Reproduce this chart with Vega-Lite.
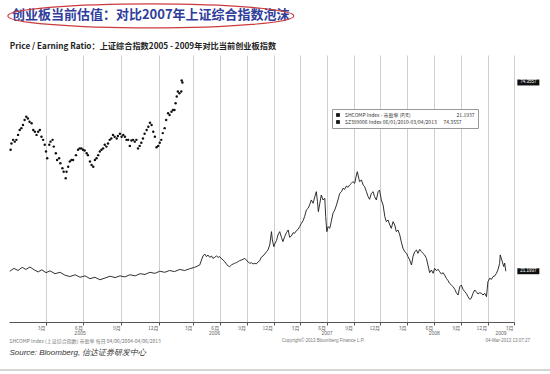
{
  "$schema": "https://vega.github.io/schema/vega-lite/v6.json",
  "width": 506,
  "height": 267,
  "autosize": {"type": "none"},
  "padding": {"left": 9, "top": 55, "right": 35, "bottom": 52},
  "background": "white",
  "config": {
    "font": "Liberation Sans",
    "view": {"stroke": null}
  },
  "datasets": {
    "pe": [
      {"date": "2005-01-03", "pe": 21.2, "series": "SHCOMP"},
      {"date": "2005-01-13", "pe": 22.0, "series": "SHCOMP"},
      {"date": "2005-01-23", "pe": 21.4, "series": "SHCOMP"},
      {"date": "2005-02-02", "pe": 22.3, "series": "SHCOMP"},
      {"date": "2005-02-11", "pe": 21.7, "series": "SHCOMP"},
      {"date": "2005-02-21", "pe": 22.4, "series": "SHCOMP"},
      {"date": "2005-03-03", "pe": 21.6, "series": "SHCOMP"},
      {"date": "2005-03-13", "pe": 21.0, "series": "SHCOMP"},
      {"date": "2005-03-22", "pe": 21.6, "series": "SHCOMP"},
      {"date": "2005-04-01", "pe": 20.8, "series": "SHCOMP"},
      {"date": "2005-04-11", "pe": 21.3, "series": "SHCOMP"},
      {"date": "2005-04-23", "pe": 20.5, "series": "SHCOMP"},
      {"date": "2005-05-05", "pe": 20.9, "series": "SHCOMP"},
      {"date": "2005-05-17", "pe": 20.1, "series": "SHCOMP"},
      {"date": "2005-05-29", "pe": 19.7, "series": "SHCOMP"},
      {"date": "2005-06-11", "pe": 20.2, "series": "SHCOMP"},
      {"date": "2005-06-23", "pe": 19.5, "series": "SHCOMP"},
      {"date": "2005-07-05", "pe": 19.9, "series": "SHCOMP"},
      {"date": "2005-07-17", "pe": 19.1, "series": "SHCOMP"},
      {"date": "2005-07-29", "pe": 19.5, "series": "SHCOMP"},
      {"date": "2005-08-10", "pe": 18.8, "series": "SHCOMP"},
      {"date": "2005-08-23", "pe": 19.3, "series": "SHCOMP"},
      {"date": "2005-09-04", "pe": 19.8, "series": "SHCOMP"},
      {"date": "2005-09-16", "pe": 19.4, "series": "SHCOMP"},
      {"date": "2005-09-28", "pe": 19.9, "series": "SHCOMP"},
      {"date": "2005-10-10", "pe": 19.6, "series": "SHCOMP"},
      {"date": "2005-10-22", "pe": 20.2, "series": "SHCOMP"},
      {"date": "2005-11-04", "pe": 19.9, "series": "SHCOMP"},
      {"date": "2005-11-16", "pe": 20.5, "series": "SHCOMP"},
      {"date": "2005-11-28", "pe": 20.3, "series": "SHCOMP"},
      {"date": "2005-12-10", "pe": 20.9, "series": "SHCOMP"},
      {"date": "2005-12-22", "pe": 20.6, "series": "SHCOMP"},
      {"date": "2006-01-03", "pe": 21.2, "series": "SHCOMP"},
      {"date": "2006-01-16", "pe": 20.9, "series": "SHCOMP"},
      {"date": "2006-01-29", "pe": 21.4, "series": "SHCOMP"},
      {"date": "2006-02-11", "pe": 21.1, "series": "SHCOMP"},
      {"date": "2006-02-25", "pe": 21.7, "series": "SHCOMP"},
      {"date": "2006-03-10", "pe": 21.4, "series": "SHCOMP"},
      {"date": "2006-03-23", "pe": 21.9, "series": "SHCOMP"},
      {"date": "2006-04-07", "pe": 22.3, "series": "SHCOMP"},
      {"date": "2006-04-24", "pe": 22.96, "series": "SHCOMP"},
      {"date": "2006-04-30", "pe": 24.36, "series": "SHCOMP"},
      {"date": "2006-05-05", "pe": 25.49, "series": "SHCOMP"},
      {"date": "2006-05-11", "pe": 26.05, "series": "SHCOMP"},
      {"date": "2006-05-17", "pe": 25.3, "series": "SHCOMP"},
      {"date": "2006-05-22", "pe": 25.77, "series": "SHCOMP"},
      {"date": "2006-05-28", "pe": 25.11, "series": "SHCOMP"},
      {"date": "2006-06-03", "pe": 25.49, "series": "SHCOMP"},
      {"date": "2006-06-08", "pe": 24.83, "series": "SHCOMP"},
      {"date": "2006-06-14", "pe": 25.11, "series": "SHCOMP"},
      {"date": "2006-06-20", "pe": 25.49, "series": "SHCOMP"},
      {"date": "2006-06-26", "pe": 25.11, "series": "SHCOMP"},
      {"date": "2006-07-01", "pe": 25.3, "series": "SHCOMP"},
      {"date": "2006-07-07", "pe": 24.74, "series": "SHCOMP"},
      {"date": "2006-07-13", "pe": 24.36, "series": "SHCOMP"},
      {"date": "2006-07-18", "pe": 23.89, "series": "SHCOMP"},
      {"date": "2006-07-24", "pe": 23.24, "series": "SHCOMP"},
      {"date": "2006-07-30", "pe": 22.67, "series": "SHCOMP"},
      {"date": "2006-08-04", "pe": 22.49, "series": "SHCOMP"},
      {"date": "2006-08-10", "pe": 22.96, "series": "SHCOMP"},
      {"date": "2006-08-16", "pe": 23.24, "series": "SHCOMP"},
      {"date": "2006-08-21", "pe": 23.43, "series": "SHCOMP"},
      {"date": "2006-08-27", "pe": 23.61, "series": "SHCOMP"},
      {"date": "2006-09-02", "pe": 23.89, "series": "SHCOMP"},
      {"date": "2006-09-07", "pe": 24.18, "series": "SHCOMP"},
      {"date": "2006-09-13", "pe": 24.36, "series": "SHCOMP"},
      {"date": "2006-09-19", "pe": 24.55, "series": "SHCOMP"},
      {"date": "2006-09-25", "pe": 24.83, "series": "SHCOMP"},
      {"date": "2006-09-30", "pe": 24.36, "series": "SHCOMP"},
      {"date": "2006-10-06", "pe": 23.8, "series": "SHCOMP"},
      {"date": "2006-10-12", "pe": 23.43, "series": "SHCOMP"},
      {"date": "2006-10-17", "pe": 23.61, "series": "SHCOMP"},
      {"date": "2006-10-23", "pe": 23.24, "series": "SHCOMP"},
      {"date": "2006-10-29", "pe": 23.43, "series": "SHCOMP"},
      {"date": "2006-11-03", "pe": 23.24, "series": "SHCOMP"},
      {"date": "2006-11-09", "pe": 23.8, "series": "SHCOMP"},
      {"date": "2006-11-15", "pe": 24.18, "series": "SHCOMP"},
      {"date": "2006-11-20", "pe": 25.11, "series": "SHCOMP"},
      {"date": "2006-11-26", "pe": 25.49, "series": "SHCOMP"},
      {"date": "2006-12-02", "pe": 26.05, "series": "SHCOMP"},
      {"date": "2006-12-08", "pe": 26.71, "series": "SHCOMP"},
      {"date": "2006-12-13", "pe": 27.18, "series": "SHCOMP"},
      {"date": "2006-12-19", "pe": 28.59, "series": "SHCOMP"},
      {"date": "2006-12-25", "pe": 32.35, "series": "SHCOMP"},
      {"date": "2006-12-28", "pe": 30.0, "series": "SHCOMP"},
      {"date": "2007-01-02", "pe": 28.12, "series": "SHCOMP"},
      {"date": "2007-01-06", "pe": 29.06, "series": "SHCOMP"},
      {"date": "2007-01-11", "pe": 29.81, "series": "SHCOMP"},
      {"date": "2007-01-16", "pe": 31.41, "series": "SHCOMP"},
      {"date": "2007-01-22", "pe": 32.35, "series": "SHCOMP"},
      {"date": "2007-01-28", "pe": 30.75, "series": "SHCOMP"},
      {"date": "2007-02-02", "pe": 29.53, "series": "SHCOMP"},
      {"date": "2007-02-08", "pe": 30.94, "series": "SHCOMP"},
      {"date": "2007-02-14", "pe": 32.06, "series": "SHCOMP"},
      {"date": "2007-02-20", "pe": 32.82, "series": "SHCOMP"},
      {"date": "2007-02-25", "pe": 30.75, "series": "SHCOMP"},
      {"date": "2007-03-03", "pe": 31.13, "series": "SHCOMP"},
      {"date": "2007-03-09", "pe": 32.06, "series": "SHCOMP"},
      {"date": "2007-03-14", "pe": 31.88, "series": "SHCOMP"},
      {"date": "2007-03-20", "pe": 32.63, "series": "SHCOMP"},
      {"date": "2007-03-26", "pe": 33.0, "series": "SHCOMP"},
      {"date": "2007-03-31", "pe": 33.75, "series": "SHCOMP"},
      {"date": "2007-04-06", "pe": 34.69, "series": "SHCOMP"},
      {"date": "2007-04-12", "pe": 35.44, "series": "SHCOMP"},
      {"date": "2007-04-17", "pe": 36.57, "series": "SHCOMP"},
      {"date": "2007-04-23", "pe": 38.45, "series": "SHCOMP"},
      {"date": "2007-04-29", "pe": 38.92, "series": "SHCOMP"},
      {"date": "2007-05-04", "pe": 39.86, "series": "SHCOMP"},
      {"date": "2007-05-10", "pe": 41.27, "series": "SHCOMP"},
      {"date": "2007-05-16", "pe": 40.33, "series": "SHCOMP"},
      {"date": "2007-05-22", "pe": 42.2, "series": "SHCOMP"},
      {"date": "2007-05-27", "pe": 43.61, "series": "SHCOMP"},
      {"date": "2007-05-31", "pe": 40.8, "series": "SHCOMP"},
      {"date": "2007-06-03", "pe": 37.98, "series": "SHCOMP"},
      {"date": "2007-06-08", "pe": 40.33, "series": "SHCOMP"},
      {"date": "2007-06-13", "pe": 42.67, "series": "SHCOMP"},
      {"date": "2007-06-19", "pe": 41.27, "series": "SHCOMP"},
      {"date": "2007-06-25", "pe": 41.74, "series": "SHCOMP"},
      {"date": "2007-06-28", "pe": 36.57, "series": "SHCOMP"},
      {"date": "2007-07-02", "pe": 32.35, "series": "SHCOMP"},
      {"date": "2007-07-06", "pe": 33.75, "series": "SHCOMP"},
      {"date": "2007-07-12", "pe": 33.28, "series": "SHCOMP"},
      {"date": "2007-07-17", "pe": 35.16, "series": "SHCOMP"},
      {"date": "2007-07-23", "pe": 37.51, "series": "SHCOMP"},
      {"date": "2007-07-29", "pe": 38.45, "series": "SHCOMP"},
      {"date": "2007-08-04", "pe": 39.86, "series": "SHCOMP"},
      {"date": "2007-08-09", "pe": 41.27, "series": "SHCOMP"},
      {"date": "2007-08-15", "pe": 43.14, "series": "SHCOMP"},
      {"date": "2007-08-21", "pe": 43.61, "series": "SHCOMP"},
      {"date": "2007-08-26", "pe": 44.55, "series": "SHCOMP"},
      {"date": "2007-09-01", "pe": 44.27, "series": "SHCOMP"},
      {"date": "2007-09-07", "pe": 45.21, "series": "SHCOMP"},
      {"date": "2007-09-12", "pe": 44.83, "series": "SHCOMP"},
      {"date": "2007-09-18", "pe": 45.49, "series": "SHCOMP"},
      {"date": "2007-09-24", "pe": 45.96, "series": "SHCOMP"},
      {"date": "2007-09-29", "pe": 46.43, "series": "SHCOMP"},
      {"date": "2007-10-05", "pe": 45.96, "series": "SHCOMP"},
      {"date": "2007-10-11", "pe": 48.31, "series": "SHCOMP"},
      {"date": "2007-10-14", "pe": 49.25, "series": "SHCOMP"},
      {"date": "2007-10-19", "pe": 47.37, "series": "SHCOMP"},
      {"date": "2007-10-22", "pe": 46.43, "series": "SHCOMP"},
      {"date": "2007-10-28", "pe": 46.9, "series": "SHCOMP"},
      {"date": "2007-11-03", "pe": 45.49, "series": "SHCOMP"},
      {"date": "2007-11-08", "pe": 45.02, "series": "SHCOMP"},
      {"date": "2007-11-14", "pe": 43.61, "series": "SHCOMP"},
      {"date": "2007-11-20", "pe": 42.2, "series": "SHCOMP"},
      {"date": "2007-11-25", "pe": 41.45, "series": "SHCOMP"},
      {"date": "2007-12-01", "pe": 43.14, "series": "SHCOMP"},
      {"date": "2007-12-07", "pe": 43.61, "series": "SHCOMP"},
      {"date": "2007-12-12", "pe": 42.2, "series": "SHCOMP"},
      {"date": "2007-12-18", "pe": 41.27, "series": "SHCOMP"},
      {"date": "2007-12-24", "pe": 43.61, "series": "SHCOMP"},
      {"date": "2007-12-29", "pe": 44.08, "series": "SHCOMP"},
      {"date": "2008-01-04", "pe": 41.27, "series": "SHCOMP"},
      {"date": "2008-01-10", "pe": 39.86, "series": "SHCOMP"},
      {"date": "2008-01-16", "pe": 36.57, "series": "SHCOMP"},
      {"date": "2008-01-21", "pe": 35.16, "series": "SHCOMP"},
      {"date": "2008-01-27", "pe": 35.63, "series": "SHCOMP"},
      {"date": "2008-02-02", "pe": 34.22, "series": "SHCOMP"},
      {"date": "2008-02-07", "pe": 33.28, "series": "SHCOMP"},
      {"date": "2008-02-13", "pe": 35.16, "series": "SHCOMP"},
      {"date": "2008-02-19", "pe": 34.22, "series": "SHCOMP"},
      {"date": "2008-02-24", "pe": 32.35, "series": "SHCOMP"},
      {"date": "2008-03-01", "pe": 32.82, "series": "SHCOMP"},
      {"date": "2008-03-07", "pe": 31.41, "series": "SHCOMP"},
      {"date": "2008-03-12", "pe": 29.53, "series": "SHCOMP"},
      {"date": "2008-03-18", "pe": 27.65, "series": "SHCOMP"},
      {"date": "2008-03-24", "pe": 26.71, "series": "SHCOMP"},
      {"date": "2008-03-30", "pe": 26.24, "series": "SHCOMP"},
      {"date": "2008-04-04", "pe": 25.3, "series": "SHCOMP"},
      {"date": "2008-04-10", "pe": 24.36, "series": "SHCOMP"},
      {"date": "2008-04-16", "pe": 22.96, "series": "SHCOMP"},
      {"date": "2008-04-21", "pe": 25.3, "series": "SHCOMP"},
      {"date": "2008-04-27", "pe": 26.71, "series": "SHCOMP"},
      {"date": "2008-05-03", "pe": 27.18, "series": "SHCOMP"},
      {"date": "2008-05-08", "pe": 26.24, "series": "SHCOMP"},
      {"date": "2008-05-14", "pe": 27.37, "series": "SHCOMP"},
      {"date": "2008-05-20", "pe": 26.71, "series": "SHCOMP"},
      {"date": "2008-05-25", "pe": 26.24, "series": "SHCOMP"},
      {"date": "2008-05-31", "pe": 25.77, "series": "SHCOMP"},
      {"date": "2008-06-06", "pe": 24.83, "series": "SHCOMP"},
      {"date": "2008-06-11", "pe": 22.96, "series": "SHCOMP"},
      {"date": "2008-06-17", "pe": 20.8, "series": "SHCOMP"},
      {"date": "2008-06-23", "pe": 21.55, "series": "SHCOMP"},
      {"date": "2008-06-29", "pe": 20.61, "series": "SHCOMP"},
      {"date": "2008-07-04", "pe": 22.02, "series": "SHCOMP"},
      {"date": "2008-07-10", "pe": 21.36, "series": "SHCOMP"},
      {"date": "2008-07-16", "pe": 21.74, "series": "SHCOMP"},
      {"date": "2008-07-21", "pe": 21.08, "series": "SHCOMP"},
      {"date": "2008-07-27", "pe": 20.42, "series": "SHCOMP"},
      {"date": "2008-08-02", "pe": 20.8, "series": "SHCOMP"},
      {"date": "2008-08-07", "pe": 20.14, "series": "SHCOMP"},
      {"date": "2008-08-13", "pe": 19.2, "series": "SHCOMP"},
      {"date": "2008-08-19", "pe": 18.54, "series": "SHCOMP"},
      {"date": "2008-08-24", "pe": 17.79, "series": "SHCOMP"},
      {"date": "2008-08-30", "pe": 17.32, "series": "SHCOMP"},
      {"date": "2008-09-05", "pe": 16.85, "series": "SHCOMP"},
      {"date": "2008-09-11", "pe": 16.1, "series": "SHCOMP"},
      {"date": "2008-09-16", "pe": 15.16, "series": "SHCOMP"},
      {"date": "2008-09-22", "pe": 14.5, "series": "SHCOMP"},
      {"date": "2008-09-28", "pe": 16.85, "series": "SHCOMP"},
      {"date": "2008-10-03", "pe": 17.32, "series": "SHCOMP"},
      {"date": "2008-10-09", "pe": 16.1, "series": "SHCOMP"},
      {"date": "2008-10-15", "pe": 15.44, "series": "SHCOMP"},
      {"date": "2008-10-20", "pe": 14.97, "series": "SHCOMP"},
      {"date": "2008-10-26", "pe": 14.03, "series": "SHCOMP"},
      {"date": "2008-11-01", "pe": 13.28, "series": "SHCOMP"},
      {"date": "2008-11-06", "pe": 13.57, "series": "SHCOMP"},
      {"date": "2008-11-12", "pe": 14.97, "series": "SHCOMP"},
      {"date": "2008-11-18", "pe": 15.91, "series": "SHCOMP"},
      {"date": "2008-11-23", "pe": 15.44, "series": "SHCOMP"},
      {"date": "2008-11-29", "pe": 14.79, "series": "SHCOMP"},
      {"date": "2008-12-05", "pe": 15.16, "series": "SHCOMP"},
      {"date": "2008-12-11", "pe": 14.97, "series": "SHCOMP"},
      {"date": "2008-12-16", "pe": 14.5, "series": "SHCOMP"},
      {"date": "2008-12-22", "pe": 14.97, "series": "SHCOMP"},
      {"date": "2008-12-28", "pe": 14.03, "series": "SHCOMP"},
      {"date": "2009-01-02", "pe": 18.26, "series": "SHCOMP"},
      {"date": "2009-01-08", "pe": 19.2, "series": "SHCOMP"},
      {"date": "2009-01-14", "pe": 18.92, "series": "SHCOMP"},
      {"date": "2009-01-19", "pe": 19.67, "series": "SHCOMP"},
      {"date": "2009-01-25", "pe": 19.86, "series": "SHCOMP"},
      {"date": "2009-01-31", "pe": 20.61, "series": "SHCOMP"},
      {"date": "2009-02-05", "pe": 21.55, "series": "SHCOMP"},
      {"date": "2009-02-11", "pe": 23.43, "series": "SHCOMP"},
      {"date": "2009-02-13", "pe": 25.8, "series": "SHCOMP"},
      {"date": "2009-02-20", "pe": 23.9, "series": "SHCOMP"},
      {"date": "2009-02-25", "pe": 22.5, "series": "SHCOMP"},
      {"date": "2009-02-28", "pe": 23.5, "series": "SHCOMP"},
      {"date": "2009-03-04", "pe": 21.1937, "series": "SHCOMP"},
      {"date": "2005-01-05", "pe": 55.4, "series": "SZ399006"},
      {"date": "2005-01-07", "pe": 57.2, "series": "SZ399006"},
      {"date": "2005-01-11", "pe": 58.2, "series": "SZ399006"},
      {"date": "2005-01-15", "pe": 57.7, "series": "SZ399006"},
      {"date": "2005-01-19", "pe": 58.2, "series": "SZ399006"},
      {"date": "2005-01-23", "pe": 59.6, "series": "SZ399006"},
      {"date": "2005-01-27", "pe": 61.0, "series": "SZ399006"},
      {"date": "2005-01-31", "pe": 61.5, "series": "SZ399006"},
      {"date": "2005-02-04", "pe": 62.4, "series": "SZ399006"},
      {"date": "2005-02-08", "pe": 63.8, "series": "SZ399006"},
      {"date": "2005-02-12", "pe": 64.7, "series": "SZ399006"},
      {"date": "2005-02-16", "pe": 64.2, "series": "SZ399006"},
      {"date": "2005-02-20", "pe": 63.3, "series": "SZ399006"},
      {"date": "2005-02-25", "pe": 62.9, "series": "SZ399006"},
      {"date": "2005-03-01", "pe": 61.0, "series": "SZ399006"},
      {"date": "2005-03-05", "pe": 60.5, "series": "SZ399006"},
      {"date": "2005-03-09", "pe": 59.6, "series": "SZ399006"},
      {"date": "2005-03-13", "pe": 60.5, "series": "SZ399006"},
      {"date": "2005-03-17", "pe": 61.0, "series": "SZ399006"},
      {"date": "2005-03-21", "pe": 59.1, "series": "SZ399006"},
      {"date": "2005-03-25", "pe": 58.2, "series": "SZ399006"},
      {"date": "2005-03-29", "pe": 56.8, "series": "SZ399006"},
      {"date": "2005-04-01", "pe": 54.9, "series": "SZ399006"},
      {"date": "2005-04-04", "pe": 53.0, "series": "SZ399006"},
      {"date": "2005-04-09", "pe": 56.8, "series": "SZ399006"},
      {"date": "2005-04-12", "pe": 57.7, "series": "SZ399006"},
      {"date": "2005-04-17", "pe": 58.2, "series": "SZ399006"},
      {"date": "2005-04-20", "pe": 56.3, "series": "SZ399006"},
      {"date": "2005-04-25", "pe": 54.4, "series": "SZ399006"},
      {"date": "2005-04-28", "pe": 52.5, "series": "SZ399006"},
      {"date": "2005-05-03", "pe": 53.0, "series": "SZ399006"},
      {"date": "2005-05-06", "pe": 51.6, "series": "SZ399006"},
      {"date": "2005-05-11", "pe": 50.2, "series": "SZ399006"},
      {"date": "2005-05-14", "pe": 49.2, "series": "SZ399006"},
      {"date": "2005-05-19", "pe": 47.4, "series": "SZ399006"},
      {"date": "2005-05-21", "pe": 49.2, "series": "SZ399006"},
      {"date": "2005-05-25", "pe": 50.6, "series": "SZ399006"},
      {"date": "2005-05-29", "pe": 52.1, "series": "SZ399006"},
      {"date": "2005-06-02", "pe": 52.5, "series": "SZ399006"},
      {"date": "2005-06-06", "pe": 52.5, "series": "SZ399006"},
      {"date": "2005-06-13", "pe": 53.9, "series": "SZ399006"},
      {"date": "2005-06-18", "pe": 55.4, "series": "SZ399006"},
      {"date": "2005-06-22", "pe": 55.8, "series": "SZ399006"},
      {"date": "2005-06-26", "pe": 55.8, "series": "SZ399006"},
      {"date": "2005-06-30", "pe": 55.4, "series": "SZ399006"},
      {"date": "2005-07-04", "pe": 55.2, "series": "SZ399006"},
      {"date": "2005-07-09", "pe": 54.4, "series": "SZ399006"},
      {"date": "2005-07-12", "pe": 53.9, "series": "SZ399006"},
      {"date": "2005-07-17", "pe": 52.1, "series": "SZ399006"},
      {"date": "2005-07-21", "pe": 51.1, "series": "SZ399006"},
      {"date": "2005-07-25", "pe": 50.6, "series": "SZ399006"},
      {"date": "2005-07-29", "pe": 52.5, "series": "SZ399006"},
      {"date": "2005-08-02", "pe": 53.0, "series": "SZ399006"},
      {"date": "2005-08-06", "pe": 53.9, "series": "SZ399006"},
      {"date": "2005-08-10", "pe": 54.9, "series": "SZ399006"},
      {"date": "2005-08-14", "pe": 55.4, "series": "SZ399006"},
      {"date": "2005-08-18", "pe": 55.8, "series": "SZ399006"},
      {"date": "2005-08-22", "pe": 56.8, "series": "SZ399006"},
      {"date": "2005-08-26", "pe": 56.3, "series": "SZ399006"},
      {"date": "2005-08-30", "pe": 57.2, "series": "SZ399006"},
      {"date": "2005-09-03", "pe": 58.2, "series": "SZ399006"},
      {"date": "2005-09-07", "pe": 58.6, "series": "SZ399006"},
      {"date": "2005-09-11", "pe": 59.6, "series": "SZ399006"},
      {"date": "2005-09-15", "pe": 59.1, "series": "SZ399006"},
      {"date": "2005-09-20", "pe": 58.6, "series": "SZ399006"},
      {"date": "2005-09-23", "pe": 59.3, "series": "SZ399006"},
      {"date": "2005-09-28", "pe": 59.9, "series": "SZ399006"},
      {"date": "2005-10-02", "pe": 59.1, "series": "SZ399006"},
      {"date": "2005-10-06", "pe": 59.6, "series": "SZ399006"},
      {"date": "2005-10-10", "pe": 59.1, "series": "SZ399006"},
      {"date": "2005-10-14", "pe": 58.2, "series": "SZ399006"},
      {"date": "2005-10-18", "pe": 58.2, "series": "SZ399006"},
      {"date": "2005-10-22", "pe": 56.5, "series": "SZ399006"},
      {"date": "2005-10-26", "pe": 58.0, "series": "SZ399006"},
      {"date": "2005-10-30", "pe": 58.2, "series": "SZ399006"},
      {"date": "2005-11-03", "pe": 57.7, "series": "SZ399006"},
      {"date": "2005-11-07", "pe": 58.2, "series": "SZ399006"},
      {"date": "2005-11-11", "pe": 55.8, "series": "SZ399006"},
      {"date": "2005-11-15", "pe": 56.5, "series": "SZ399006"},
      {"date": "2005-11-19", "pe": 57.4, "series": "SZ399006"},
      {"date": "2005-11-23", "pe": 58.6, "series": "SZ399006"},
      {"date": "2005-11-27", "pe": 59.9, "series": "SZ399006"},
      {"date": "2005-12-02", "pe": 61.0, "series": "SZ399006"},
      {"date": "2005-12-06", "pe": 61.9, "series": "SZ399006"},
      {"date": "2005-12-10", "pe": 63.0, "series": "SZ399006"},
      {"date": "2005-12-14", "pe": 62.4, "series": "SZ399006"},
      {"date": "2005-12-18", "pe": 60.5, "series": "SZ399006"},
      {"date": "2005-12-22", "pe": 59.1, "series": "SZ399006"},
      {"date": "2005-12-26", "pe": 56.1, "series": "SZ399006"},
      {"date": "2005-12-30", "pe": 56.5, "series": "SZ399006"},
      {"date": "2006-01-03", "pe": 57.4, "series": "SZ399006"},
      {"date": "2006-01-07", "pe": 58.2, "series": "SZ399006"},
      {"date": "2006-01-11", "pe": 60.1, "series": "SZ399006"},
      {"date": "2006-01-16", "pe": 61.5, "series": "SZ399006"},
      {"date": "2006-01-20", "pe": 63.8, "series": "SZ399006"},
      {"date": "2006-01-25", "pe": 65.7, "series": "SZ399006"},
      {"date": "2006-01-29", "pe": 65.2, "series": "SZ399006"},
      {"date": "2006-02-03", "pe": 66.1, "series": "SZ399006"},
      {"date": "2006-02-07", "pe": 66.6, "series": "SZ399006"},
      {"date": "2006-02-11", "pe": 66.6, "series": "SZ399006"},
      {"date": "2006-02-14", "pe": 68.5, "series": "SZ399006"},
      {"date": "2006-02-17", "pe": 70.4, "series": "SZ399006"},
      {"date": "2006-02-20", "pe": 71.8, "series": "SZ399006"},
      {"date": "2006-02-24", "pe": 71.3, "series": "SZ399006"},
      {"date": "2006-03-01", "pe": 71.8, "series": "SZ399006"},
      {"date": "2006-03-02", "pe": 74.9, "series": "SZ399006"},
      {"date": "2006-03-04", "pe": 74.3557, "series": "SZ399006"}
    ]
  },
  "layer": [
    {
      "data": {"name": "pe", "format": {"parse": {"date": "date"}}},
      "transform": [{"filter": "datum.series == 'SHCOMP'"}],
      "mark": {"type": "line", "strokeWidth": 0.9, "color": "#1a1a1a"},
      "encoding": {
        "x": {
          "field": "date", "type": "quantitative",
          "scale": {
            "type": "linear",
            "domain": [1104537600000, 1136073600000, 1143849600000, 1238544000000],
            "range": [0, 150, 184, 505],
            "nice": false,
            "zero": false
          },
          "axis": {
            "orient": "bottom",
            "title": null,
            "values": [1112313600000, 1120176000000, 1128124800000, 1136073600000, 1143849600000, 1151712000000, 1159660800000, 1167609600000, 1175385600000, 1183248000000, 1191196800000, 1199145600000, 1207008000000, 1214870400000, 1222819200000, 1230768000000, 1238544000000],
            "labelExpr": "utcmonth(datum.value) == 0 ? '12月' : utcmonth(datum.value) + '月'",
            "labelAlign": "right",
            "labelOffset": -1,
            "labelFont": "Noto Sans CJK SC",
            "labelFontSize": 5,
            "labelColor": "#666666",
            "labelPadding": 0,
            "grid": true,
            "gridColor": "#cfcfcf",
            "gridWidth": 1,
            "tickSize": 3,
            "tickColor": "#555555",
            "domainColor": "#555555",
            "labelOverlap": false,
            "labelBound": false,
            "labelFlush": false
          }
        },
        "y": {
          "field": "pe", "type": "quantitative",
          "scale": {"domain": [6.9, 82.1], "nice": false, "zero": false},
          "axis": {
            "orient": "right",
            "title": null,
            "values": [10, 20, 30, 40, 50, 60, 70, 80],
            "grid": true,
            "gridColor": "#cfcfcf",
            "gridWidth": 1,
            "labelFontSize": 5,
            "labelColor": "#666666",
            "labelPadding": 2,
            "tickSize": 3,
            "tickWidth": 1.5,
            "tickColor": "#222222",
            "domainColor": "#888888"
          }
        }
      }
    },
    {
      "data": {"name": "pe", "format": {"parse": {"date": "date"}}},
      "transform": [{"filter": "datum.series == 'SZ399006'"}],
      "mark": {"type": "point", "filled": true, "size": 6, "opacity": 1},
      "encoding": {
        "x": {
          "field": "date", "type": "quantitative",
          "axis": {
            "orient": "bottom",
            "title": null,
            "values": [1119398400000, 1150070400000, 1183248000000, 1214870400000, 1234569600000],
            "labelExpr": "'' + utcyear(datum.value)",
            "labelFontSize": 5,
            "labelColor": "#666666",
            "labelPadding": 8,
            "grid": false,
            "ticks": false,
            "domain": false,
            "labelOverlap": false,
            "labelFlush": false
          }
        },
        "y": {"field": "pe", "type": "quantitative", "axis": null},
        "color": {
          "field": "series", "type": "nominal",
          "scale": {"domain": ["SHCOMP", "SZ399006"], "range": ["#111111", "#111111"]},
          "legend": {
            "orient": "none",
            "legendX": 323,
            "legendY": 54,
            "title": null,
            "fillColor": "white",
            "strokeColor": "#999999",
            "padding": 3,
            "rowPadding": 1,
            "symbolType": "square",
            "symbolSize": 14,
            "labelFont": "Noto Sans CJK SC",
            "labelFontSize": 5,
            "labelColor": "#333333",
            "labelLimit": 300,
            "labelExpr": "datum.label == 'SHCOMP' ? 'SHCOMP Index - 市盈率 (P/E)\u00a0\u00a0\u00a0\u00a0\u00a0\u00a0\u00a0\u00a0\u00a0\u00a0\u00a0\u00a0\u00a0\u00a0\u00a0\u00a0\u00a0\u00a0\u00a0\u00a0\u00a0\u00a0\u00a0\u00a0\u00a0\u00a0\u00a0\u00a0\u00a0\u00a0\u00a0\u00a0\u00a0\u00a0\u00a0\u00a0\u00a0\u00a0\u00a0\u00a0\u00a021.1937' : 'SZ399006 Index 06/01/2010-03/04/2013\u00a0\u00a0\u00a0\u00a0\u00a0\u00a074.3557'"
          }
        }
      }
    },
    {
      "data": {"values": [{"v": 74.3557}, {"v": 21.1937}]},
      "mark": {"type": "point", "shape": "M -1 -0.27 H 1 V 0.27 H -1 Z", "size": 484, "filled": true, "color": "#111111", "opacity": 1},
      "encoding": {
        "x": {"datum": 1242777600000, "type": "quantitative", "axis": null},
        "y": {"field": "v", "type": "quantitative", "axis": null}
      }
    },
    {
      "data": {"values": [{"v": 74.3557}, {"v": 21.1937}]},
      "mark": {"type": "text", "fontSize": 4.5, "color": "white", "align": "center", "baseline": "middle"},
      "encoding": {
        "x": {"datum": 1242777600000, "type": "quantitative", "axis": null},
        "y": {"field": "v", "type": "quantitative", "axis": null},
        "text": {"field": "v", "type": "quantitative", "format": ".4f"}
      }
    },
    {
      "data": {"values": [{"text": "创业板当前估值：对比2007年上证综合指数泡沫"}]},
      "mark": {"type": "text", "font": "Noto Sans CJK SC", "fontSize": 13, "fontWeight": "bold", "color": "#2f3d9c", "align": "left", "baseline": "middle"},
      "encoding": {
        "x": {"datum": 1105142400000, "type": "quantitative", "axis": null},
        "y": {"datum": 93.4, "type": "quantitative", "axis": null},
        "text": {"field": "text"}
      }
    },
    {
      "data": {"values": [{"text": "Price / Earning Ratio：上证综合指数2005 - 2009年对比当前创业板指数"}]},
      "mark": {"type": "text", "font": "Noto Sans CJK SC", "fontSize": 8.2, "fontWeight": "bold", "color": "#222222", "align": "left", "baseline": "middle"},
      "encoding": {
        "x": {"datum": 1104710400000, "type": "quantitative", "axis": null},
        "y": {"datum": 84.4, "type": "quantitative", "axis": null},
        "text": {"field": "text"}
      }
    },
    {
      "data": {"values": [{"text": "SHCOMP Index (上证综合指数) 市盈率   每日 04/06/2004-04/06/2013"}]},
      "mark": {"type": "text", "font": "Noto Sans CJK SC", "fontSize": 5, "color": "#777777", "align": "left", "baseline": "middle"},
      "encoding": {
        "x": {"datum": 1104624000000, "type": "quantitative", "axis": null},
        "y": {"datum": 1.6, "type": "quantitative", "axis": null},
        "text": {"field": "text"}
      }
    },
    {
      "data": {"values": [{"text": "Copyright© 2013 Bloomberg Finance L.P."}]},
      "mark": {"type": "text", "fontSize": 4.5, "color": "#777777", "align": "center", "baseline": "middle"},
      "encoding": {
        "x": {"datum": 1182211200000, "type": "quantitative", "axis": null},
        "y": {"datum": 1.6, "type": "quantitative", "axis": null},
        "text": {"field": "text"}
      }
    },
    {
      "data": {"values": [{"text": "04-Mar-2013 13:07:27"}]},
      "mark": {"type": "text", "fontSize": 4.5, "color": "#777777", "align": "right", "baseline": "middle"},
      "encoding": {
        "x": {"datum": 1243296000000, "type": "quantitative", "axis": null},
        "y": {"datum": 1.6, "type": "quantitative", "axis": null},
        "text": {"field": "text"}
      }
    },
    {
      "data": {"values": [{"text": "Source: Bloomberg, 信达证券研发中心"}]},
      "mark": {"type": "text", "fontSize": 8, "fontStyle": "italic", "color": "#333333", "align": "left", "baseline": "middle"},
      "encoding": {
        "x": {"datum": 1104624000000, "type": "quantitative", "axis": null},
        "y": {"datum": -1.7, "type": "quantitative", "axis": null},
        "text": {"field": "text"}
      }
    },
    {
      "data": {"values": [{"k": 1}]},
      "mark": {"type": "rule", "color": "#d5d5d5", "strokeWidth": 2},
      "encoding": {
        "x": {"datum": 1102636800000, "type": "quantitative", "axis": null},
        "x2": {"datum": 1249430400000},
        "y": {"datum": -6.6, "type": "quantitative", "axis": null}
      }
    },
    {
      "data": {"values": [{"k": 1}]},
      "mark": {
        "type": "point",
        "shape": "M -1 0 C -1 -0.0463 -0.5523 -0.0839 0 -0.0839 C 0.5523 -0.0839 1 -0.0463 1 0 C 1 0.0463 0.5523 0.0839 0 0.0839 C -0.5523 0.0839 -1 0.0463 -1 0 Z",
        "size": 81796,
        "filled": false,
        "stroke": "#cc3b3b",
        "strokeWidth": 1.2,
        "opacity": 1
      },
      "encoding": {
        "x": {"datum": 1134345600000, "type": "quantitative", "axis": null},
        "y": {"datum": 93.1, "type": "quantitative", "axis": null}
      }
    }
  ],
  "resolve": {"axis": {"x": "independent"}}
}
